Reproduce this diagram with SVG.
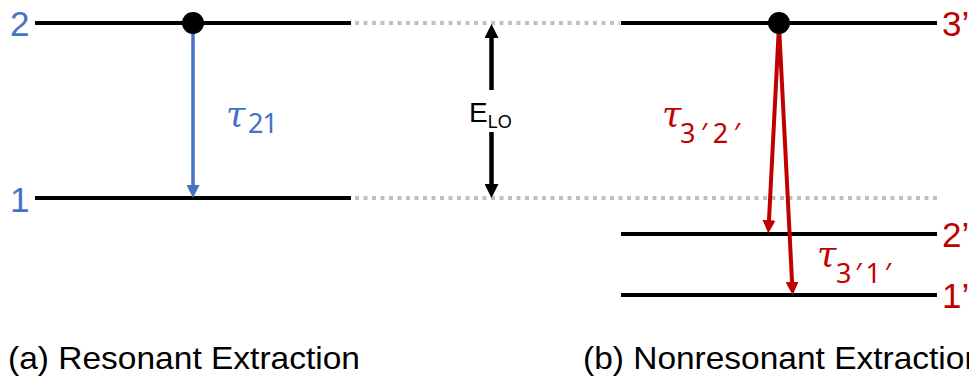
<svg xmlns="http://www.w3.org/2000/svg" width="969" height="378" viewBox="0 0 969 378">
<style>
.lvl{stroke:#000;stroke-width:4;fill:none}
.dot{stroke:#BFBFBF;stroke-width:4;stroke-dasharray:4 4.5;fill:none}
.lbl{font-family:"Liberation Sans",Arial,sans-serif;font-size:35px}
.blue{fill:#4472C4}
.red{fill:#C00000}
.tau{font-family:"DejaVu Serif",serif;font-style:italic;font-size:35px}
.sub{font-family:"Noto Sans",sans-serif;font-style:normal;font-size:27px}
.cap{font-family:"Liberation Sans",Arial,sans-serif;font-size:32px;fill:#000}
</style>
<defs>
<marker id="hb" viewBox="0 0 10 10" refX="6.2" refY="5" markerWidth="13" markerHeight="13" markerUnits="userSpaceOnUse" orient="auto"><path d="M0,0L10,5L0,10z" fill="#4472C4"/></marker>
<marker id="hr" viewBox="0 0 10 10" refX="6.2" refY="5" markerWidth="13" markerHeight="13" markerUnits="userSpaceOnUse" orient="auto"><path d="M0,0L10,5L0,10z" fill="#C00000"/></marker>
<marker id="hk" viewBox="0 0 10 10" refX="6.4" refY="5" markerWidth="14" markerHeight="14" markerUnits="userSpaceOnUse" orient="auto"><path d="M0,0L10,5L0,10z" fill="#000"/></marker>
</defs>
<g id="level-2"><line class="lvl" x1="35" y1="23" x2="351" y2="23"/><text class="lbl blue" x="10" y="36">2</text></g>
<g id="level-1"><line class="lvl" x1="35" y1="198" x2="351" y2="198"/><text class="lbl blue" x="10" y="212">1</text></g>
<g id="level-3p"><line class="lvl" x1="621" y1="23" x2="937" y2="23"/><text class="lbl red" x="942" y="36">3’</text></g>
<g id="level-2p"><line class="lvl" x1="621" y1="234" x2="937" y2="234"/><text class="lbl red" x="942" y="247">2’</text></g>
<g id="level-1p"><line class="lvl" x1="621" y1="295" x2="937" y2="295"/><text class="lbl red" x="942" y="308">1’</text></g>
<g id="guides"><line class="dot" x1="355" y1="23" x2="620" y2="23"/><line class="dot" x1="355" y1="198" x2="937" y2="198"/></g>
<g id="connectors">
<line x1="193" y1="30" x2="193" y2="193" stroke="#4472C4" stroke-width="3.5" marker-end="url(#hb)"/>
<line x1="779" y1="25" x2="768.56" y2="228.3" stroke="#C00000" stroke-width="4" marker-end="url(#hr)"/>
<line x1="779" y1="25" x2="792.44" y2="290" stroke="#C00000" stroke-width="4" marker-end="url(#hr)"/>
<line x1="491.5" y1="90" x2="491.5" y2="29" stroke="#000" stroke-width="4.5" marker-end="url(#hk)"/>
<line x1="491.5" y1="132" x2="491.5" y2="193" stroke="#000" stroke-width="4.5" marker-end="url(#hk)"/>
</g>
<g id="electron-a"><circle cx="193" cy="23" r="11" fill="#000"/></g>
<g id="electron-b"><circle cx="779" cy="23" r="11" fill="#000"/></g>
<g id="elo-label"><text font-family="Liberation Sans, Arial, sans-serif" font-size="28" x="469" y="122">E<tspan font-size="18" y="128">LO</tspan></text></g>
<g id="tau21"><text class="tau blue" x="226" y="127">τ<tspan class="sub" x="248" y="133" textLength="30">21</tspan></text></g>
<g id="tau32"><text class="tau red" x="662" y="127">τ<tspan class="sub" x="680" y="143" textLength="60" lengthAdjust="spacing">3′2′</tspan></text></g>
<g id="tau31"><text class="tau red" x="817" y="267">τ<tspan class="sub" x="836" y="283" textLength="55" lengthAdjust="spacing">3′1′</tspan></text></g>
<g id="captions">
<text class="cap" x="8" y="369" textLength="352" lengthAdjust="spacingAndGlyphs">(a) Resonant Extraction</text>
<text class="cap" x="583" y="369" textLength="400" lengthAdjust="spacingAndGlyphs">(b) Nonresonant Extraction</text>
</g>
</svg>
